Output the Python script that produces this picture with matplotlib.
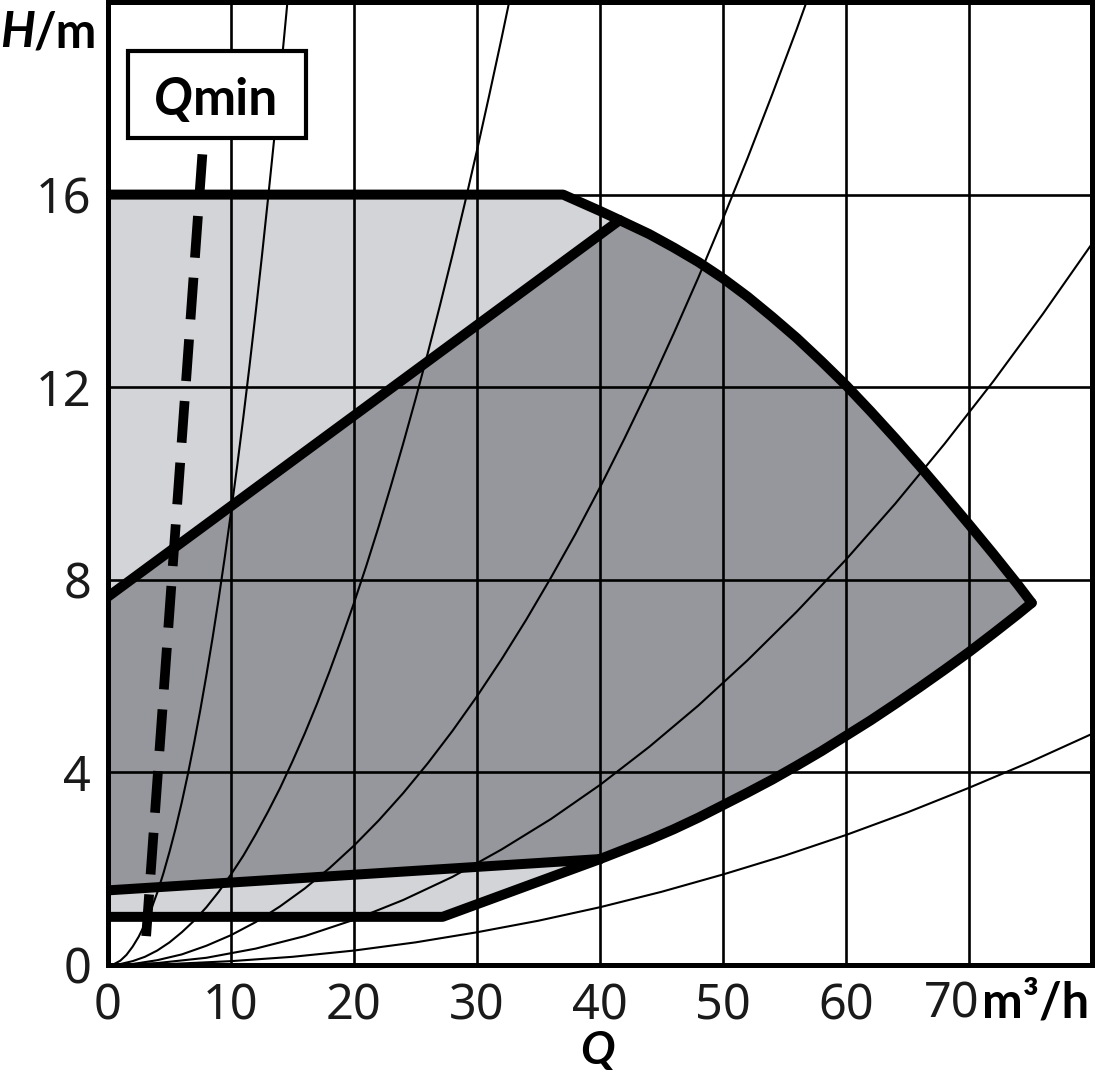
import matplotlib
matplotlib.use('Agg')
import matplotlib.pyplot as plt
from matplotlib.patches import Polygon, Rectangle

### Data
# system curves H over Q
sys1_q = [0, 0.5, 1, 1.5, 2, 2.5, 3, 3.5, 4, 4.5, 5, 5.5, 6, 6.5, 7, 7.5, 8, 8.5, 9, 9.5,
          10, 10.5, 11, 11.5, 12, 12.5, 13, 13.5, 14, 14.5, 15]
sys1_h = [0, 0.02, 0.09, 0.21, 0.38, 0.59, 0.85, 1.15, 1.5, 1.9, 2.35, 2.84, 3.38, 3.97, 4.61, 5.29,
          6.02, 6.79, 7.61, 8.48, 9.4, 10.36, 11.37, 12.43, 13.54, 14.69, 15.89, 17.13, 18.42, 19.76, 21.15]
sys2_q = [0, 1, 2, 3, 4, 5, 6, 7, 8, 9, 10, 11, 12, 13, 14, 15, 16, 17, 18, 19, 20, 21, 22, 23,
          24, 25, 26, 27, 28, 29, 30, 31, 32, 33]
sys2_h = [0, 0.02, 0.08, 0.17, 0.3, 0.47, 0.68, 0.92, 1.2, 1.52, 1.88, 2.27, 2.71, 3.18, 3.68, 4.23,
          4.81, 5.43, 6.09, 6.79, 7.52, 8.29, 9.1, 9.95, 10.83, 11.75, 12.71, 13.71, 14.74, 15.81,
          16.92, 18.07, 19.25, 20.47]
sys3_q = [0, 2, 4, 6, 8, 10, 12, 14, 16, 18, 20, 22, 24, 26, 28, 30, 32, 34, 36, 38, 40, 42, 44,
          46, 48, 50, 52, 54, 56, 58]
sys3_h = [0, 0.02, 0.1, 0.22, 0.4, 0.62, 0.89, 1.22, 1.59, 2.01, 2.48, 3.0, 3.57, 4.19, 4.86, 5.58,
          6.35, 7.17, 8.04, 8.95, 9.92, 10.94, 12.0, 13.12, 14.28, 15.5, 16.76, 18.08, 19.44, 20.86]
sys4_q = [0, 4, 8, 12, 16, 20, 24, 28, 32, 36, 40, 44, 48, 52, 56, 60, 64, 68, 72, 76, 80]
sys4_h = [0, 0.04, 0.15, 0.34, 0.6, 0.94, 1.35, 1.83, 2.4, 3.03, 3.74, 4.53, 5.39, 6.33, 7.34, 8.42,
          9.58, 10.82, 12.13, 13.52, 14.98]
sys5_q = [0, 5, 10, 15, 20, 25, 30, 35, 40, 45, 50, 55, 60, 65, 70, 75, 80]
sys5_h = [0, 0.02, 0.08, 0.17, 0.3, 0.47, 0.68, 0.92, 1.2, 1.52, 1.88, 2.27, 2.7, 3.17, 3.68, 4.22, 4.8]

# max curve (top of the field)
max_q = [0, 37.0, 40, 41.6, 44, 46, 48, 50, 52, 54, 56, 58, 60, 62, 64, 66, 68, 70, 72, 74, 75.1]
max_h = [16, 16, 15.66, 15.47, 15.18, 14.9, 14.6, 14.26, 13.88, 13.46, 13.02, 12.54, 12.04, 11.5,
         10.94, 10.36, 9.76, 9.15, 8.53, 7.89, 7.52]
# lower curve, from the tip back to Q=40
low_q = [75.1, 74, 72, 70, 68, 66, 64, 62, 60, 58, 56, 54, 52, 50, 48, 46, 44, 42, 40]
low_h = [7.52, 7.29, 6.89, 6.5, 6.13, 5.77, 5.42, 5.08, 4.76, 4.44, 4.14, 3.85, 3.58, 3.32, 3.06,
         2.82, 2.6, 2.4, 2.2]
# min curve of the light field
min_q = [40, 27.2, 0]
min_h = [2.2, 1.0, 1.0]
# dark field borders
dark_top_q = [0, 41.6]
dark_top_h = [7.65, 15.47]
dark_bot_q = [0, 40]
dark_bot_h = [1.55, 2.2]
# Qmin line
qmin_q = [3.1, 8.0]
qmin_h = [0.6, 18.0]

x_ticks = [0, 10, 20, 30, 40, 50, 60, 70]
x_labels = ['0', '10', '20', '30', '40', '50', '60', '']
y_ticks = [0, 4, 8, 12, 16]

W, H = 1098, 1080
fig = plt.figure(figsize=(W / 100, H / 100), dpi=100)
ax = fig.add_axes([108 / W, 1 - 965 / H, (1092 - 108) / W, (965 - 2) / H])
ax.set_xlim(0, 80)
ax.set_ylim(0, 20)

light = '#d3d4d8'
dark = '#96979c'
bold_font = ['Lato', 'DejaVu Sans']

# fields
light_pts = list(zip(max_q, max_h)) + list(zip(low_q[1:], low_h[1:])) + list(zip(min_q[1:], min_h[1:]))
ax.add_patch(Polygon(light_pts, closed=True, facecolor=light, edgecolor='none', zorder=1))
dark_pts = list(zip(dark_top_q, dark_top_h))
dark_pts += [(q, h) for q, h in zip(max_q, max_h) if q > dark_top_q[-1]]
dark_pts += list(zip(low_q[1:], low_h[1:]))
dark_pts += [(dark_bot_q[0], dark_bot_h[0])]
ax.add_patch(Polygon(dark_pts, closed=True, facecolor=dark, edgecolor='none', zorder=1))

# grid
ax.set_xticks(x_ticks)
ax.set_xticklabels(x_labels)
ax.set_yticks(y_ticks)
ax.set_axisbelow('line')
ax.grid(True, color='black', linewidth=1.9)
ax.tick_params(length=0, labelsize=35)
ax.tick_params(axis='x', pad=12)
ax.tick_params(axis='y', pad=12)
for lab in ax.get_xticklabels() + ax.get_yticklabels():
    lab.set_fontfamily('Noto Sans')
    lab.set_color('#1a1a1a')

# system curves
for q, h in [(sys1_q, sys1_h), (sys2_q, sys2_h), (sys3_q, sys3_h), (sys4_q, sys4_h), (sys5_q, sys5_h)]:
    ax.plot(q, h, color='black', linewidth=1.5, zorder=2)

# thick borders
for q, h in [(max_q, max_h), (low_q, low_h), (min_q, min_h), (dark_top_q, dark_top_h), (dark_bot_q, dark_bot_h)]:
    ax.plot(q, h, color='black', linewidth=7.2, solid_joinstyle='round', solid_capstyle='round', zorder=3)

# Qmin dashed line and box
ax.plot(qmin_q, qmin_h, color='black', linewidth=7, linestyle=(0, (4.3, 2.06)),
        dash_capstyle='butt', zorder=4)
ax.add_patch(Rectangle((1.63, 17.18), 16.1 - 1.63, 18.98 - 17.18, facecolor='white',
                       edgecolor='black', linewidth=3, zorder=5))

for s in ax.spines.values():
    s.set_linewidth(3.6)
    s.set_zorder(6)


def px(x, y):
    return x / W, 1 - y / H


fig.text(*px(154, 115), 'Q', fontsize=37, fontweight='bold', fontstyle='italic',
         family=bold_font, va='baseline', ha='left', zorder=7)
fig.text(*px(193, 115), 'min', fontsize=37, fontweight='bold',
         family=bold_font, va='baseline', ha='left', zorder=7)

# axis labels
fig.text(*px(0, 47), 'H', fontsize=35, fontweight='bold', fontstyle='italic',
         family=bold_font, va='baseline', ha='left')
fig.text(*px(34, 47), '/m', fontsize=35, fontweight='bold',
         family=bold_font, va='baseline', ha='left')
fig.text(*px(952, 1018), '70', fontsize=35, family='Noto Sans', color='#1a1a1a',
         va='baseline', ha='center')
fig.text(*px(982, 1018), 'm³/h', fontsize=35, fontweight='bold',
         family=bold_font, va='baseline', ha='left')
fig.text(*px(597, 1064), 'Q', fontsize=33, fontweight='bold', fontstyle='italic',
         family=bold_font, va='baseline', ha='center')

fig.savefig('out.png', dpi=100)
